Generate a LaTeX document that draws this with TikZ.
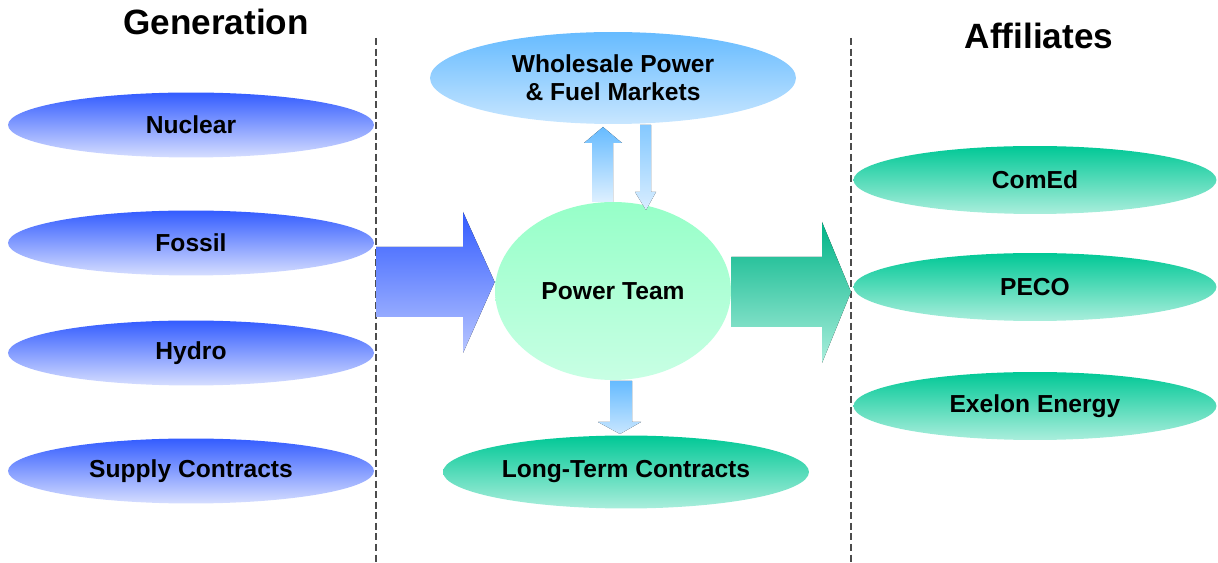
\documentclass[tikz,border=0pt]{standalone}
\usepackage{fontspec}
\setmainfont{Liberation Sans}
\usetikzlibrary{shapes.geometric}

\definecolor{genblue}{RGB}{51,92,255}
\definecolor{genbluelt}{RGB}{214,222,255}
\definecolor{skyblue}{RGB}{102,187,255}
\definecolor{skybluelt}{RGB}{200,230,255}
\definecolor{mint}{RGB}{150,255,200}
\definecolor{mintlt}{RGB}{200,255,228}
\definecolor{seagreen}{RGB}{0,200,150}
\definecolor{seagreenlt}{RGB}{170,238,220}

\tikzset{
  oval/.style={ellipse, inner sep=0pt, align=center, text=black,
    font=\bfseries\fontsize{14}{16}\selectfont},
  genoval/.style={oval, minimum width=7.32cm, minimum height=1.3cm,
    top color=genblue, bottom color=genbluelt},
  affoval/.style={oval, minimum width=7.26cm, minimum height=1.36cm,
    top color=seagreen, bottom color=seagreenlt},
  title/.style={font=\bfseries\fontsize{20}{24}\selectfont},
  divider/.style={dashed, dash pattern=on 4pt off 2pt, line width=0.8pt, color=black!70}
}

\begin{document}
\begin{tikzpicture}[x=0.02cm, y=-0.02cm]
	%%%%% FRAME %%%%%
	\useasboundingbox (0,0) rectangle (1218,563);
	
	\node[title] (gen) at (216,22) {Generation};
	\node[title] (aff) at (1039,36) {Affiliates};
	
	\draw[divider] (376,38) -- (376,563);
	\draw[divider] (851,38) -- (851,563);
	
	%%%%% GENERATION %%%%%
	\node[genoval] (nuclear) at (191,125) {Nuclear};
	\node[genoval] (fossil) at (191,243) {Fossil};
	\node[genoval] (hydro) at (191,353) {Hydro};
	\node[genoval] (supply) at (191,471) {Supply Contracts};
	
	%%%%% CENTRE %%%%%
	\node[oval, minimum width=7.32cm, minimum height=1.84cm,
		top color=skyblue, bottom color=skybluelt] (market) at (613,78)
		{Wholesale Power\\\& Fuel Markets};
	\node[oval, minimum width=4.72cm, minimum height=3.56cm,
		top color=mint, bottom color=mintlt] (team) at (613,291) {Power Team};
	\node[oval, minimum width=7.32cm, minimum height=1.46cm,
		top color=seagreen, bottom color=seagreenlt] (longterm) at (626,472)
		{Long-Term Contracts};
	
	%%%%% AFFILIATES %%%%%
	\node[affoval] (comed) at (1035,180) {ComEd};
	\node[affoval] (peco) at (1035,287) {PECO};
	\node[affoval] (exelon) at (1035,406) {Exelon Energy};
	
	%%%%% BLOCK ARROWS %%%%%
	\fill[top color=genblue, bottom color=genblue!35!white]
		(376,247) -- (463,247) -- (463,212) -- (team.west |- 0,282)
		-- (463,353) -- (463,317) -- (376,317) -- cycle;
	\fill[top color=seagreen!90!black, bottom color=seagreenlt]
		(team.east |- 0,257) -- (822,257) -- (822,222) -- (851,292)
		-- (822,363) -- (822,327) -- (team.east |- 0,327) -- cycle;
	
	\fill[top color=skyblue, bottom color=skybluelt!60!white]
		(592,202) -- (592,143) -- (584,143) -- (603,127)
		-- (622,143) -- (613,143) -- (613,202) -- cycle;
	\fill[top color=skyblue!80!white, bottom color=skybluelt!70!white]
		(640,125) -- (651,125) -- (651,192) -- (656,192)
		-- (646,210) -- (635,192) -- (640,192) -- cycle;
	\fill[top color=skyblue, bottom color=skybluelt]
		(610,381) -- (632,381) -- (632,422) -- (641,422)
		-- (620,434) -- (598,422) -- (610,422) -- cycle;
	
\end{tikzpicture}
\end{document}
